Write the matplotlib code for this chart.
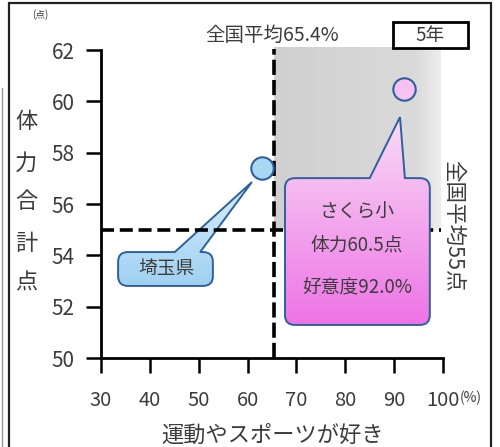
import numpy as np
import matplotlib
matplotlib.use("Agg")
import matplotlib.pyplot as plt
from matplotlib.path import Path
from matplotlib.patches import PathPatch, Rectangle
from matplotlib.colors import LinearSegmentedColormap

plt.rcParams['font.family'] = ['Noto Sans CJK JP', 'DejaVu Sans']

# ---- data ----
names = ["埼玉県", "さくら小"]
like_pct = [63.0, 92.0]        # 運動やスポーツが好き (%)
fitness = [57.4, 60.5]         # 体力合計点
nat_like = 65.4
nat_fit = 55.0
xticks = [30, 40, 50, 60, 70, 80, 90, 100]
yticks = [50, 52, 54, 56, 58, 60, 62]
grade = "5年"

TXT = "#3c3c3c"

fig = plt.figure(figsize=(5.0, 4.47), dpi=100)
ax = fig.add_axes([0.202, 0.199, 0.684, 0.689])
ax.set_xlim(30, 100)
ax.set_ylim(50, 62)

for s in ["top", "right"]:
    ax.spines[s].set_visible(False)
for s in ["left", "bottom"]:
    ax.spines[s].set_linewidth(2.0)
    ax.spines[s].set_color("black")
ax.tick_params(axis="both", direction="out", length=11, width=1.8, colors="black",
               labelcolor=TXT)
ax.set_xticks(xticks)
ax.set_yticks(yticks)
ax.set_xticklabels([str(v) for v in xticks])
ax.set_yticklabels([str(v) for v in yticks])
ax.tick_params(axis="x", pad=12, labelsize=14.5)
ax.tick_params(axis="y", pad=8, labelsize=15)

# gray shaded quadrant
gcmap = LinearSegmentedColormap.from_list(
    "g", [(0, "#d0d0d0"), (0.85, "#dadada"), (1.0, "#eeeeee")])
grad = np.linspace(0, 1, 200).reshape(1, -1)
im = ax.imshow(grad, extent=[nat_like, 99.5, nat_fit, 62.1], origin="upper",
               cmap=gcmap, aspect="auto", zorder=0, clip_on=False, vmin=0, vmax=1)

# national average lines
ax.plot([nat_like, nat_like], [50, 62.05], color="black", lw=2.6,
        dashes=(4.2, 1.4), zorder=4, clip_on=False)

def callout(x0, x1, y0, y1, bx0, bx1, tx, ty, ctop, cbot, z):
    rx, ry = 2.0, 0.38
    verts = [(x0, y1 - ry), (x0, y1), (x0 + rx, y1), (bx0, y1), (tx, ty), (bx1, y1),
             (x1 - rx, y1), (x1, y1), (x1, y1 - ry), (x1, y0 + ry), (x1, y0),
             (x1 - rx, y0), (x0 + rx, y0), (x0, y0), (x0, y0 + ry), (x0, y1 - ry)]
    codes = [Path.MOVETO, Path.CURVE3, Path.CURVE3, Path.LINETO, Path.LINETO, Path.LINETO,
             Path.LINETO, Path.CURVE3, Path.CURVE3, Path.LINETO, Path.CURVE3, Path.CURVE3,
             Path.LINETO, Path.CURVE3, Path.CURVE3, Path.CLOSEPOLY]
    path = Path(verts, codes)
    patch = PathPatch(path, facecolor="none", edgecolor="#2f5f9f", lw=1.4, zorder=z + 0.1)
    ax.add_patch(patch)
    cm = LinearSegmentedColormap.from_list("c", [ctop, cbot])
    g = np.linspace(0, 1, 100).reshape(-1, 1)
    img = ax.imshow(g, extent=[min(x0, tx), max(x1, tx), y0, max(y1, ty)], origin="upper",
                    cmap=cm, aspect="auto", zorder=z)
    img.set_clip_path(patch)

# 埼玉県 callout (behind the dashed line)
callout(33.5, 52.9, 52.81, 54.13, 45.1, 50.3, 60.9, 56.86, "#d8eefb", "#a0d1f2", 2)

ax.plot([30, 99.5], [nat_fit, nat_fit], color="black", lw=2.6,
        dashes=(3.6, 1.6), zorder=3)

# さくら小 callout (in front of the dashed line)
callout(67.66, 97.3, 51.29, 57.01, 85.0, 92.2, 91.2, 59.39, "#f8dcf5", "#ee74e6", 5)

# points
ax.scatter([like_pct[0]], [fitness[0]], s=260, facecolor="#a9d8f4", edgecolor="#2f5f9f",
           lw=1.5, zorder=6, clip_on=False)
ax.scatter([like_pct[1]], [fitness[1]], s=260, facecolor="#f6c2f2", edgecolor="#2f5f9f",
           lw=1.5, zorder=6, clip_on=False)

FS = 13.5
ax.text(43.3, 53.47, names[0], ha="center", va="center", fontsize=FS, color=TXT, zorder=7)
ax.text(82.4, 55.69, names[1], ha="center", va="center", fontsize=FS, color=TXT, zorder=7)
ax.text(82.4, 54.40, f"体力{fitness[1]}点", ha="center", va="center", fontsize=FS,
        color=TXT, zorder=7)
ax.text(82.4, 52.73, f"好意度{like_pct[1]:.1f}%", ha="center", va="center", fontsize=FS,
        color=TXT, zorder=7)

# annotations outside
fig.text(272 / 500, 1 - 35 / 447, f"全国平均{nat_like}%", ha="center", va="center",
         fontsize=14, color=TXT)
fig.text(453 / 500, 1 - 226 / 447, "全国平均55点", ha="center", va="center",
         fontsize=15.5, color=TXT, rotation=-90)
fig.text(40 / 500, 1 - 15 / 447, "(点)", ha="center", va="center", fontsize=7, color=TXT)
fig.text(471 / 500, 1 - 398 / 447, "(%)", ha="center", va="center", fontsize=10, color=TXT)
for ch, yp in zip("体力合計点", [122, 163, 202, 243, 283]):
    fig.text(26 / 500, 1 - yp / 447, ch, ha="center", va="center", fontsize=16, color=TXT)
fig.text(272 / 500, 1 - 435 / 447, "運動やスポーツが好き", ha="center", va="center",
         fontsize=16, color=TXT)

# grade box
fig.patches.append(Rectangle((393 / 500, 1 - 48 / 447), 75 / 500, 26 / 447,
                             transform=fig.transFigure, facecolor="white",
                             edgecolor="black", lw=2.0))
fig.text(430 / 500, 1 - 35 / 447, grade, ha="center", va="center", fontsize=13.5, color=TXT)

# outer frame
fig.patches.append(Rectangle((9 / 500, -0.01), 482 / 500, 1 - 3 / 447 + 0.01,
                             transform=fig.transFigure, facecolor="none",
                             edgecolor="#222222", lw=1.6))
fig.lines.append(plt.Line2D([2 / 500, 2 / 500], [0, 1 - 88 / 447], transform=fig.transFigure,
                            color="#9a9a9a", lw=1.0))

fig.savefig("out.png", dpi=100)
